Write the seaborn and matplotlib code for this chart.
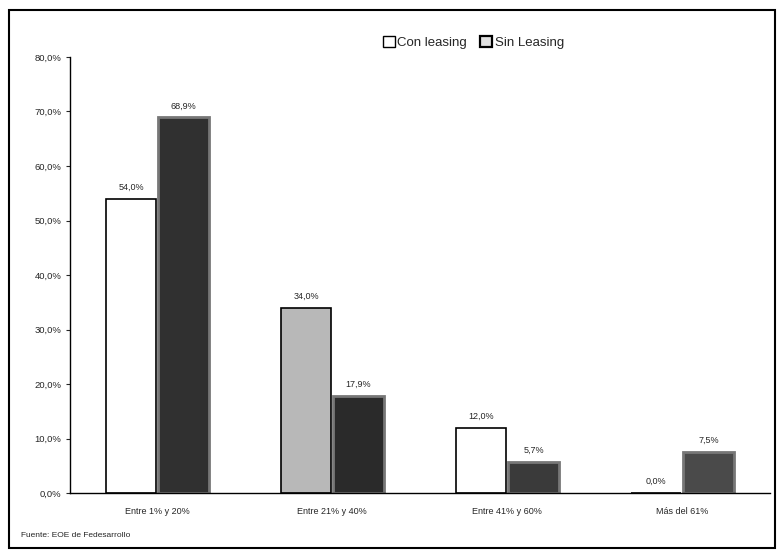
'''
Distribución de empresas según porcentaje - Con y Sin Leasing.
'''

import numpy as np
import pandas as pd
import seaborn as sns
import matplotlib.pyplot as plt
from matplotlib.patches import Rectangle, Patch

# Data
categories = ['Entre 1% y 20%', 'Entre 21% y 40%', 'Entre 41% y 60%', 'Más del 61%']
con_leasing = [54.0, 34.0, 12.0, 0.0]
sin_leasing = [68.9, 17.9, 5.7, 7.5]
series_names = ['Con leasing', 'Sin Leasing']
y_ticks = [0, 10, 20, 30, 40, 50, 60, 70, 80]

# Styles (scan looks: white / grey-speckled / near black)
con_faces = ['white', '#b8b8b8', 'white', 'white']
sin_faces = ['#303030', '#2a2a2a', '#3a3a3a', '#4a4a4a']

def pct(v):
    return ('%.1f%%' % v).replace('.', ',')

df = pd.DataFrame({
    'categoria': categories * 2,
    'valor': con_leasing + sin_leasing,
    'serie': [series_names[0]] * 4 + [series_names[1]] * 4,
})

sns.set_style('white')
plt.rcParams['font.family'] = ['Liberation Sans', 'DejaVu Sans']

fig = plt.figure(figsize=(7.8, 5.51), dpi=100)
ax = fig.add_axes([0.0897, 0.105, 0.897, 0.7916])

sns.barplot(data=df, x='categoria', y='valor', hue='serie', order=categories,
            hue_order=series_names, palette=['white', '#303030'],
            width=0.6, gap=0.04, edgecolor='black', linewidth=1.2,
            legend=False, ax=ax)

# recolour bars per group like the scanned original
con_bars = ax.containers[0]
sin_bars = ax.containers[1]
for bar, fc in zip(con_bars, con_faces):
    bar.set_facecolor(fc)
for bar, fc in zip(sin_bars, sin_faces):
    bar.set_facecolor(fc)
    bar.set_edgecolor('#777777')
    bar.set_linewidth(2.0)

for cont, vals in [(con_bars, con_leasing), (sin_bars, sin_leasing)]:
    ax.bar_label(cont, labels=[pct(v) for v in vals], padding=5, fontsize=6.5)

ax.set_ylim(0, 80)
ax.set_yticks(y_ticks)
ax.set_yticklabels([pct(v) for v in y_ticks], fontsize=6.8)
ax.set_xlim(-0.5, 3.5)
ax.set_xlabel('')
ax.set_ylabel('')
ax.tick_params(axis='x', labelsize=6.5, length=0, pad=10)
ax.tick_params(axis='y', length=3, width=0.8, direction='out', left=True, pad=3)
for side in ['top', 'right']:
    ax.spines[side].set_visible(False)
ax.spines['left'].set_linewidth(1.0)
ax.spines['bottom'].set_linewidth(1.0)
ax.spines['left'].set_color('black')
ax.spines['bottom'].set_color('black')

# legend at the top
handles = [Patch(facecolor='white', edgecolor='black', linewidth=1.0),
           Patch(facecolor='#e0e0e0', edgecolor='black', linewidth=1.6)]
fig.legend(handles, series_names, loc='center', bbox_to_anchor=(0.607, 0.923),
           ncol=2, frameon=False, fontsize=9.5, handlelength=0.9,
           handleheight=0.9, handletextpad=0.2, columnspacing=1.0)

fig.text(0.027, 0.025, 'Fuente: EOE de Fedesarrollo', fontsize=6)

# outer frame of the scanned chart
fig.patches.append(Rectangle((0.011, 0.006), 0.983, 0.976, transform=fig.transFigure,
                             fill=False, edgecolor='black', linewidth=1.5))

fig.savefig('out.png', dpi=100)
